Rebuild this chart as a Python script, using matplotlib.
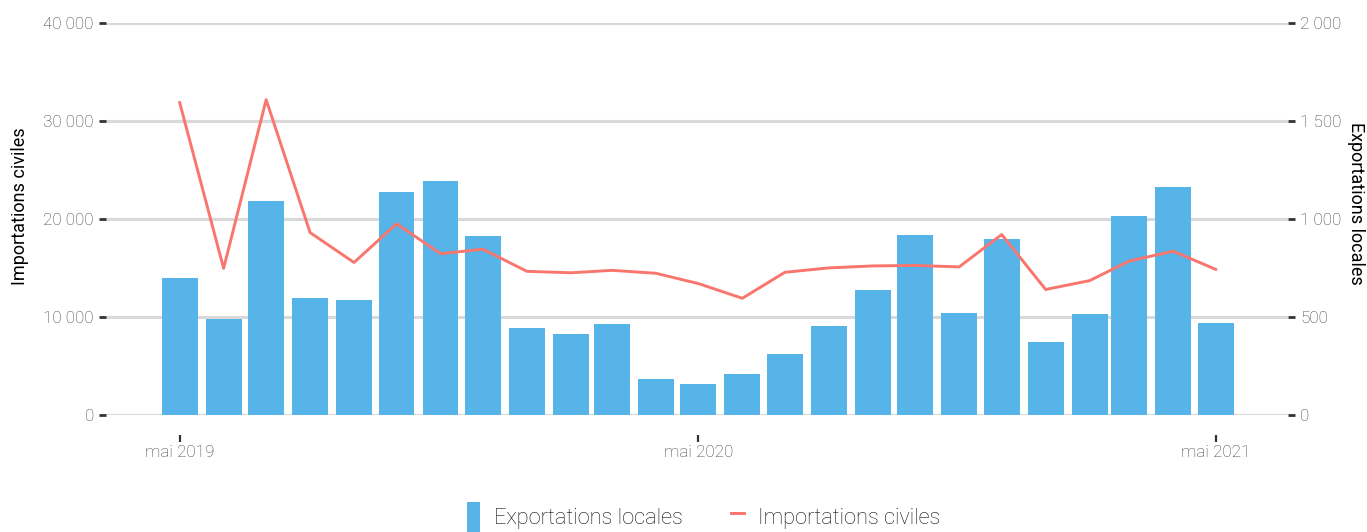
import matplotlib
matplotlib.use("Agg")
import matplotlib.pyplot as plt
import matplotlib.ticker as mticker
import pandas as pd

plt.rcParams["font.family"] = ["Roboto", "DejaVu Sans"]
plt.rcParams["font.weight"] = "light"

# monthly data, mai 2019 -> mai 2021
months = pd.date_range("2019-05-01", "2021-05-01", freq="MS")
exportations_locales = [700, 488, 1089, 595, 585, 1139, 1195, 912, 442, 412, 463, 183,
                        158, 209, 310, 453, 636, 916, 519, 895, 371, 514, 1017, 1160, 468]
importations_civiles = [31850, 14950, 32150, 18600, 15550, 19500, 16450, 16900, 14650, 14500,
                        14750, 14450, 13400, 11900, 14550, 15000, 15200, 15250, 15100, 18400,
                        12800, 13700, 15700, 16700, 14850]
xtick_dates = ["2019-05-01", "2020-05-01", "2021-05-01"]
xtick_labels = ["mai 2019", "mai 2020", "mai 2021"]

blue = "#56B4E9"
red = "#F8766D"
grey_txt = "#404040"

def fmt_fr(v, pos=None):
    return f"{int(round(v)):,}".replace(",", " ")

fig = plt.figure(figsize=(13.67, 5.32), dpi=100)
ax = fig.add_axes([106 / 1367, 1 - 415 / 532, (1288 - 106) / 1367, (415 - 22.7) / 532])
ax2 = ax.twinx()
ax.set_zorder(ax2.get_zorder() + 1)
ax.patch.set_visible(False)

ax2.bar(months, exportations_locales, width=25.3, color=blue, zorder=2,
        label="Exportations locales")
ax.plot(months, importations_civiles, color=red, lw=2.1, label="Importations civiles")

ax.set_ylim(0, 40000)
ax2.set_ylim(0, 2000)
ax.set_yticks([0, 10000, 20000, 30000, 40000])
ax2.set_yticks([0, 500, 1000, 1500, 2000])
ax.yaxis.set_major_formatter(mticker.FuncFormatter(fmt_fr))
ax2.yaxis.set_major_formatter(mticker.FuncFormatter(fmt_fr))

ax2.grid(axis="y", color="#d9d9d9", lw=2.2, zorder=0)
ax2.set_axisbelow(True)

ax.set_xlim(pd.Timestamp("2019-03-10"), pd.Timestamp("2021-06-21"))
ax.set_xticks(pd.to_datetime(xtick_dates))
ax.set_xticklabels(xtick_labels)

for a in (ax, ax2):
    for s in a.spines.values():
        s.set_visible(False)
    a.tick_params(axis="both", colors="#333333", labelcolor=grey_txt, labelsize=12.3,
                  length=4.8, width=2.0, pad=4)
ax.spines["bottom"].set_position(("outward", 14.5))
ax.tick_params(axis="x", pad=2.5, width=1.6)

ax.set_ylabel("Importations civiles", fontsize=13, color="#000000", labelpad=10.5)
ax2.set_ylabel("Exportations locales", fontsize=13, color="#000000", rotation=270,
               labelpad=17)
ax.yaxis.label.set_y(0.533)
ax2.yaxis.label.set_y(0.54)

h1, l1 = ax2.get_legend_handles_labels()
h2, l2 = ax.get_legend_handles_labels()
fig.legend(h1 + h2, l1 + l2, loc="center", bbox_to_anchor=(703.5 / 1367, 1 - 517 / 532),
           ncol=2, frameon=False, fontsize=15.7, handlelength=0.6, handleheight=1.8,
           handletextpad=0.65, columnspacing=2.2, labelcolor="#111111")

fig.savefig("out.png", dpi=100)
